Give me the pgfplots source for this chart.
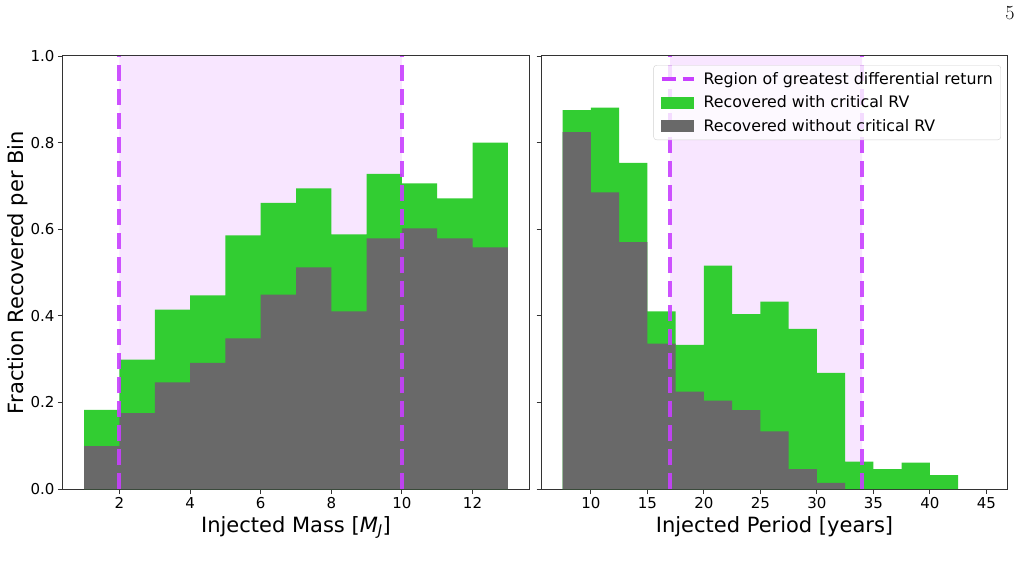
\documentclass[border=0pt]{standalone}
\usepackage{pgfplots}
\usepackage{pgfplotstable}
\pgfplotsset{compat=1.18}
\usepackage{fontspec}
\newfontfamily\dejavu{DejaVu Sans}

\definecolor{recgreen}{HTML}{32CD32}
\definecolor{recgray}{HTML}{696969}
\definecolor{regpurple}{HTML}{C83FFF}

% Recovered fractions per bin (left edge, value); last point closes the final bin
\pgfplotstableread{
x    y
1    0.183
2    0.299
3    0.414
4    0.447
5    0.586
6    0.661
7    0.694
8    0.588
9    0.728
10   0.706
11   0.671
12   0.800
13   0.800
}\massall
\pgfplotstableread{
x    y
1    0.099
2    0.175
3    0.246
4    0.291
5    0.348
6    0.449
7    0.512
8    0.410
9    0.579
10   0.602
11   0.579
12   0.558
13   0.558
}\massnocrit
\pgfplotstableread{
x     y
7.5   0.875
10    0.881
12.5  0.753
15    0.410
17.5  0.333
20    0.516
22.5  0.404
25    0.433
27.5  0.370
30    0.268
32.5  0.063
35    0.046
37.5  0.061
40    0.032
42.5  0.032
}\perall
\pgfplotstableread{
x     y
7.5   0.824
10    0.685
12.5  0.570
15    0.336
17.5  0.225
20    0.204
22.5  0.182
25    0.133
27.5  0.046
30    0.014
32.5  0.014
}\pernocrit

\pgfplotsset{
  histpanel/.style={
    scale only axis, width=466pt, height=433pt,
    ymin=0, ymax=1,
    ytick={0,0.2,...,1.0},
    tick align=outside, tick pos=left,
    major tick length=5pt,
    every tick/.style={black!80, line width=0.9pt},
    axis line style={black!80, line width=1pt},
    every tick label/.append style={font=\dejavu\fontsize{15}{18}\selectfont},
    /pgf/number format/assume math mode=true,
    yticklabel style={/pgf/number format/.cd, fixed, fixed zerofill, precision=1},
    label style={font=\dejavu\fontsize{21}{25}\selectfont},
    xlabel style={at={(axis description cs:0.5,-0.0993)}, anchor=base},
  },
  region/.style={regpurple, opacity=0.9, line width=4pt, dash pattern=on 16pt off 8pt},
  shade/.style={draw=none, fill=regpurple, fill opacity=0.13},
}

\begin{document}
\begin{tikzpicture}
\path (0pt,0pt) rectangle (1024pt,571pt);

\begin{axis}[histpanel, at={(63pt,82pt)}, anchor=south west,
  xmin=0.4, xmax=13.6, xtick={2,4,...,12},
  xlabel={Injected Mass [\textit{M}\textsubscript{\textit{J}}]},
  ylabel={Fraction Recovered per Bin},
  ylabel style={at={(axis description cs:-0.0845,0.5)}, anchor=base},
]
\addplot[shade] coordinates {(2,0) (2,1) (10,1) (10,0)} \closedcycle;
\addplot[draw=none, fill=recgreen, const plot] table {\massall} \closedcycle;
\addplot[draw=none, fill=recgray, const plot] table {\massnocrit} \closedcycle;
\addplot[region] coordinates {(2,0) (2,1)};
\addplot[region] coordinates {(10,0) (10,1)};
\end{axis}

\begin{axis}[histpanel, at={(541.5pt,82pt)}, anchor=south west,
  xmin=5.625, xmax=46.875, xtick={10,15,...,45},
  yticklabels={},
  xlabel={Injected Period [years]},
  legend cell align=left,
  legend style={at={(0.986,0.979)}, anchor=north east,
    draw=black!18, rounded corners=3pt, fill=white, fill opacity=0.8, text opacity=1,
    font=\dejavu\fontsize{15.8}{18}\selectfont,
    inner xsep=6pt, inner ysep=5pt, row sep=6pt,
    /tikz/every odd column/.append style={column sep=6pt}},
]
\addlegendimage{legend image code/.code={\draw[regpurple, opacity=1, line width=4pt, sharp corners, dash pattern=on 14pt off 7pt] (0pt,0pt) -- (32pt,0pt);}}
\addlegendentry{Region of greatest differential return}
\addlegendimage{legend image code/.code={\fill[recgreen, fill opacity=1, sharp corners] (0pt,-5.5pt) rectangle (32pt,5.5pt);}}
\addlegendentry{Recovered with critical RV}
\addlegendimage{legend image code/.code={\fill[recgray, fill opacity=1, sharp corners] (0pt,-5.5pt) rectangle (32pt,5.5pt);}}
\addlegendentry{Recovered without critical RV}
\addplot[shade, forget plot] coordinates {(17,0) (17,1) (34,1) (34,0)} \closedcycle;
\addplot[draw=none, fill=recgreen, const plot, forget plot] table {\perall} \closedcycle;
\addplot[draw=none, fill=recgray, const plot, forget plot] table {\pernocrit} \closedcycle;
\addplot[region, forget plot] coordinates {(17,0) (17,1)};
\addplot[region, forget plot] coordinates {(34,0) (34,1)};
\end{axis}

\node[font=\fontsize{20}{24}\selectfont] at (1010pt,557.5pt) {5};
\end{tikzpicture}
\end{document}
